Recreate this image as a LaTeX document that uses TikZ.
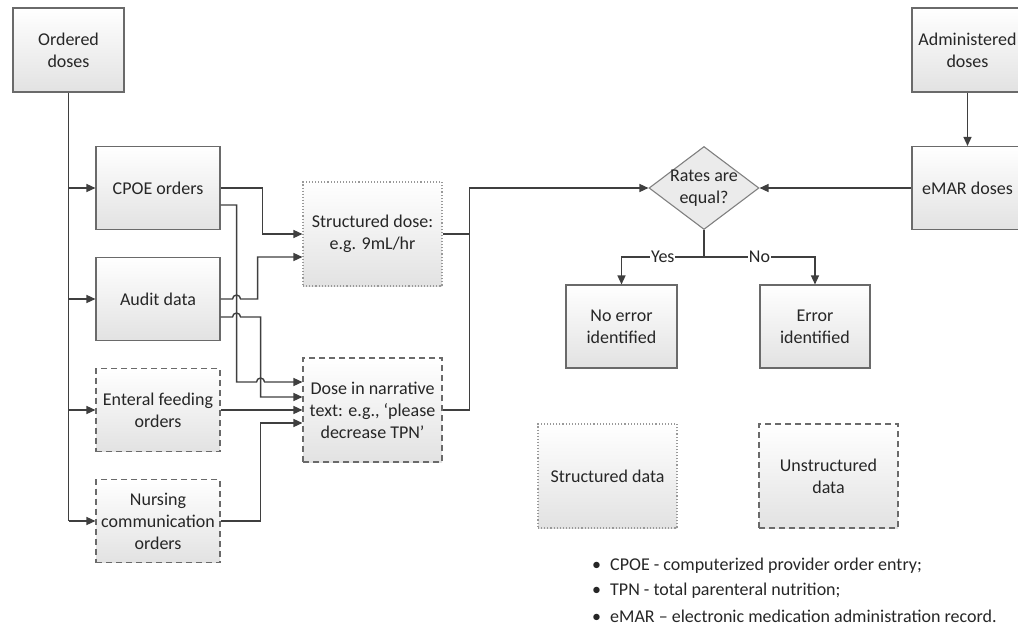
\documentclass[tikz,border=0pt]{standalone}
\usepackage{fontspec}
\setmainfont{Carlito}
\usetikzlibrary{arrows.meta, positioning, shapes.geometric}

\definecolor{linegray}{HTML}{3F3F3F}
\definecolor{edgegray}{HTML}{6A6A6A}
\definecolor{fillgray}{HTML}{E2E2E2}

\tikzset{
  box/.style={draw=edgegray, line width=1.1pt, top color=white, bottom color=fillgray,
    minimum width=124pt, minimum height=83pt, align=center, inner sep=1pt},
  sbox/.style={box, draw=gray!80, dotted, minimum width=139pt, minimum height=104pt},
  ubox/.style={box, draw=edgegray, dash pattern=on 6pt off 4pt, minimum width=139pt, minimum height=104pt},
  decision/.style={diamond, draw=gray, line width=1.1pt, fill=fillgray!70,
    minimum width=110pt, minimum height=83pt, inner sep=0pt},
  line/.style={draw=linegray, line width=1.4pt},
  arr/.style={line, -{Triangle[length=9pt,width=8pt]}},
  lab/.style={fill=white, inner sep=1pt},
}

\begin{document}
\begin{tikzpicture}[x=1pt, y=-1pt, font=\fontsize{18}{22}\selectfont, text=black!85]
\useasboundingbox (0,0) rectangle (1018,629);
\clip (0,0) rectangle (1018,629);
% sources
\node[box, minimum width=111pt, minimum height=84pt] (ord) at (68.5,50) {Ordered\\doses};
\node[box] (cpoe) at (158,188) {CPOE orders};
\node[box] (audit) at (158,299) {Audit data};
\node[box, dash pattern=on 6pt off 4pt] (ent) at (158,410) {Enteral feeding\\orders};
\node[box, dash pattern=on 6pt off 4pt] (nurs) at (158,521) {Nursing\\communication\\orders};
% dose forms
\node[sbox] (sdose) at (372.5,234) {Structured dose:\\e.g. 9mL/hr};
\node[ubox] (narr) at (372.5,410) {Dose in narrative\\text: e.g., ‘please\\decrease TPN’};
% comparison
\node[decision, label={[align=center]center:Rates are\\equal?}] (dia) at (704,188) {};
\node[box, minimum width=111pt] (noerr) at (621.5,326.5) {No error\\identified};
\node[box, minimum width=110pt] (err) at (815,326.5) {Error\\identified};
\node[box, minimum width=111pt, minimum height=84pt] (admin) at (967.5,50) {Administered\\doses};
\node[box, minimum width=111pt] (emar) at (967.5,188) {eMAR doses};
% legend
\node[sbox] (sleg) at (607.5,476) {Structured data};
\node[ubox] (uleg) at (828.5,476) {Unstructured\\data};
\node[anchor=west, inner sep=0pt] (leg1) at (583,566) {\makebox[27pt][c]{\textbullet}CPOE - computerized provider order entry;};
\node[anchor=west, inner sep=0pt] (leg2) at (583,591) {\makebox[27pt][c]{\textbullet}TPN - total parenteral nutrition;};
\node[anchor=west, inner sep=0pt] (leg3) at (583,616) {\makebox[27pt][c]{\textbullet}eMAR – electronic medication administration record.};

% ordered doses fan out
\draw[line] (ord.south) -- (ord.south |- nurs.west);
\foreach \n in {cpoe,audit,ent,nurs}
  \draw[arr] (ord.south |- \n.west) -- (\n.west);

% into structured / narrative
\draw[arr] (cpoe.east) -- ++(42,0) |- (sdose.west);
\draw[arr] ([yshift=-17pt]cpoe.east) -- ++(16,0) -- ++(0,177) -- ++(20,0)
  arc[start angle=180, end angle=360, radius=4] -- ([yshift=28pt]narr.west);
\draw[arr] (audit.east) -- ++(12,0) arc[start angle=180, end angle=360, radius=4]
  -- ++(17,0) |- ([yshift=-23pt]sdose.west);
\draw[arr] ([yshift=-18pt]audit.east) -- ++(12,0) arc[start angle=180, end angle=360, radius=4]
  -- ++(20,0) |- ([yshift=13pt]narr.west);
\draw[arr] (ent.east) -- (narr.west);
\draw[arr] (nurs.east) -- ++(40,0) |- ([yshift=-13pt]narr.west);

% to decision
\draw[line] (sdose.east) -- ++(27,0);
\draw[arr] (narr.east) -- ++(27,0) |- (dia.west);
\draw[arr] (admin.south) -- (emar.north);
\draw[arr] (emar.west) -- (dia.east);
\draw[arr] (dia.south) -- ++(0,27) -| node[pos=0.25, lab] {Yes} (noerr.north);
\draw[arr] (dia.south) ++(0,27) -| node[pos=0.25, lab] {No} (err.north);
\end{tikzpicture}
\end{document}
